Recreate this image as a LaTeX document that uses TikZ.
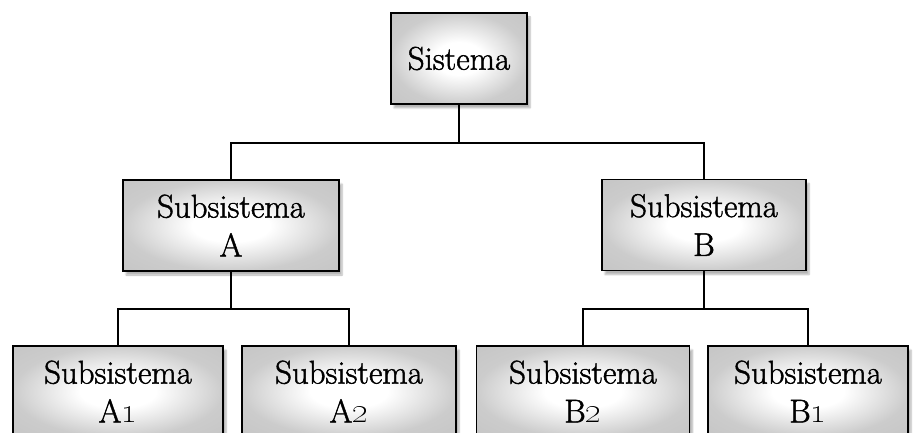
\documentclass[tikz,border=0pt]{standalone}
\usetikzlibrary{shadows.blur,calc}
\pgfdeclareradialshading{boxshade}{\pgfpoint{0bp}{0bp}}{color(0bp)=(white); color(9bp)=(white); color(25bp)=(black!20); color(50bp)=(black!26)}
\begin{document}
\begin{tikzpicture}[x=1bp,y=-1bp,
  box/.style={draw=black, line width=1.6bp, shading=boxshade,
    minimum height=91bp, inner sep=0pt, align=center,
    font=\fontsize{33}{39}\selectfont\special{pdf:literal direct 0.45 w 2 Tr},
    execute at end node={\special{pdf:literal direct 0 Tr}},
    blur shadow={shadow xshift=3bp, shadow yshift=-4bp, shadow blur steps=6, shadow opacity=30}},
  conn/.style={line width=1.6bp, line cap=rect}]
\useasboundingbox (0,0) rectangle (917,433);
% level 0
\node[box, minimum width=136bp] (top) at (459,58.5) {Sistema};
% level 1
\node[box, minimum width=216bp] (A) at (231,225.5) {Subsistema\\A};
\node[box, minimum width=204bp] (B) at (704,225) {Subsistema\\B};
% level 2
\node[box, minimum width=210bp] (A1) at (118,391.5) {Subsistema\\A\oldstylenums{1}};
\node[box, minimum width=214bp] (A2) at (349,391.5) {Subsistema\\A\oldstylenums{2}};
\node[box, minimum width=213bp] (B2) at (583,391.5) {Subsistema\\B\oldstylenums{2}};
\node[box, minimum width=200bp] (B1) at (808,391.5) {Subsistema\\B\oldstylenums{1}};
% connectors
\coordinate (j0) at ($(top.south)+(0,38)$);
\coordinate (jA) at ($(A.south)+(0,37)$);
\coordinate (jB) at ($(B.south)+(0,38)$);
\draw[conn] (top.south) -- (j0);
\draw[conn] (A.north) |- (j0) -| (B.north);
\draw[conn] (A.south) -- (jA);
\draw[conn] (A1.north) |- (jA) -| (A2.north);
\draw[conn] (B.south) -- (jB);
\draw[conn] (B2.north) |- (jB) -| (B1.north);
\end{tikzpicture}
\end{document}
